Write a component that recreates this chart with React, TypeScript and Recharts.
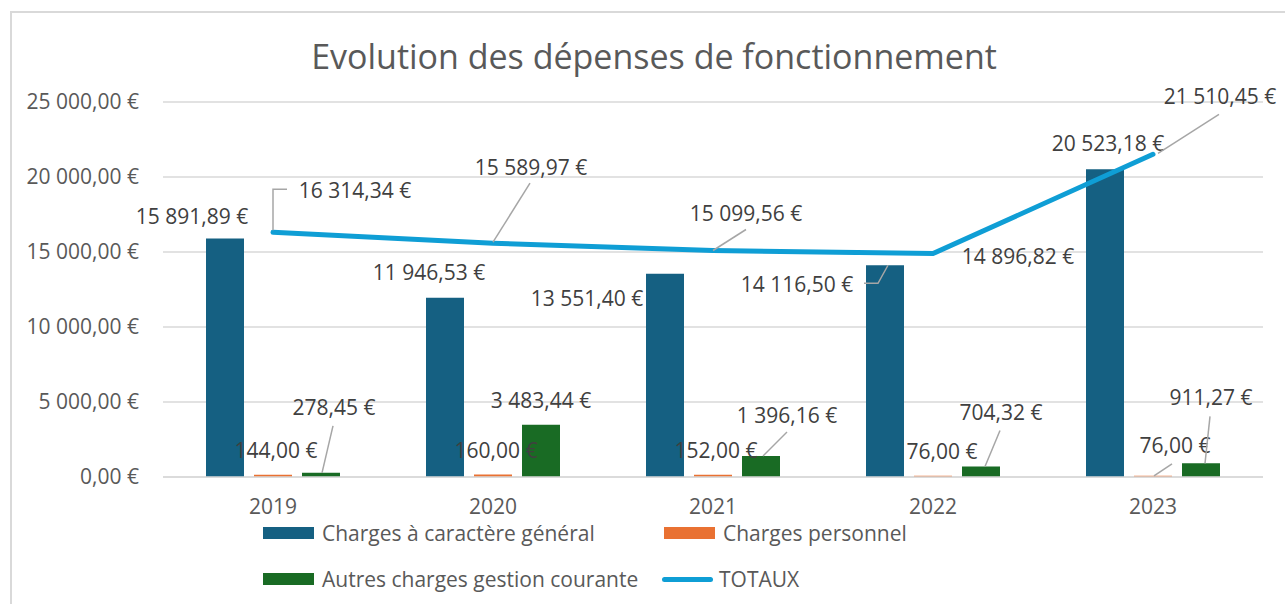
import React from "react";
import { Bar, ComposedChart, Line, XAxis, YAxis, CartesianGrid, LabelList } from "recharts";

// values
const years = ["2019", "2020", "2021", "2022", "2023"];
const chargesGenerales = [15891.89, 11946.53, 13551.4, 14116.5, 20523.18];
const chargesPersonnel = [144, 160, 152, 76, 76];
const autresCharges = [278.45, 3483.44, 1396.16, 704.32, 911.27];
const totaux = [16314.34, 15589.97, 15099.56, 14896.82, 21510.45];
const yTicks = [0, 5000, 10000, 15000, 20000, 25000];

const data = years.map((year, i) => ({
  year,
  general: chargesGenerales[i],
  personnel: chargesPersonnel[i],
  autres: autresCharges[i],
  totaux: totaux[i],
}));

const FONT = "'Open Sans', sans-serif";
const BLUE = "#156082";
const ORANGE = "#e97132";
const GREEN = "#196b24";
const LINE = "#0f9ed5";

const fmt = (v: number) => {
  const [i, d] = v.toFixed(2).split(".");
  return i.replace(/\B(?=(\d{3})+(?!\d))/g, " ") + "," + d + " €";
};

type Place = { dx: number; dy: number; leader?: number[][] };

// label placement relative to the mark (bar top centre / line point)
const generalPlaces: Place[] = [
  { dx: -33, dy: -23 },
  { dx: -16, dy: -26 },
  { dx: -78, dy: 24 },
  { dx: -88, dy: 19, leader: [[3, 0], [-7, 18], [-21, 18]] },
  { dx: 3, dy: -26 },
];
const personnelPlaces: Place[] = [
  { dx: 3, dy: -25 },
  { dx: 3, dy: -25 },
  { dx: 3, dy: -25 },
  { dx: 9, dy: -25 },
  { dx: 22, dy: -31, leader: [[1, 0], [19, -12]] },
];
const autresPlaces: Place[] = [
  { dx: 13, dy: -66, leader: [[1, 0], [12, -47]] },
  { dx: 0, dy: -25 },
  { dx: 26, dy: -41, leader: [[2, 0], [26, -24]] },
  { dx: 20, dy: -54, leader: [[4, 0], [19, -36]] },
  { dx: 10, dy: -66, leader: [[4, 0], [9, -47]] },
];
const totauxPlaces: Place[] = [
  { dx: 82, dy: -42, leader: [[0, -2], [0, -43], [14, -43]] },
  { dx: 38, dy: -76, leader: [[0, -1], [37, -60]] },
  { dx: 33, dy: -38, leader: [[0, 0], [33, -21]] },
  { dx: 85, dy: 2 },
  { dx: 67, dy: -58, leader: [[5, -1], [66, -40]] },
];

const makeLabel = (places: Place[], isBar: boolean) => (props: any) => {
  const vb = props.viewBox || {};
  const x = props.x ?? vb.x;
  const y = props.y ?? vb.y;
  const w = props.width ?? vb.width ?? 0;
  const p = places[props.index];
  if (!p || x == null || y == null) return null;
  const ax = isBar ? x + w / 2 : x;
  const ay = y;
  return (
    <g>
      {p.leader && (
        <polyline
          points={p.leader.map(([lx, ly]) => `${ax + lx},${ay + ly}`).join(" ")}
          fill="none"
          stroke="#a6a6a6"
          strokeWidth={1.5}
        />
      )}
      <text
        x={ax + p.dx}
        y={ay + p.dy}
        textAnchor="middle"
        dominantBaseline="central"
        fill="#404040"
        fontSize={21}
        fontFamily={FONT}
      >
        {fmt(Number(props.value))}
      </text>
    </g>
  );
};

const legendItems = [
  { name: "Charges à caractère général", color: BLUE, left: 263, top: 533, line: false },
  { name: "Charges personnel", color: ORANGE, left: 664, top: 533, line: false },
  { name: "Autres charges gestion courante", color: GREEN, left: 263, top: 579, line: false },
  { name: "TOTAUX", color: LINE, left: 662, top: 579, line: true },
];

const App = () => {
  return (
    <div
      style={{
        position: "absolute",
        left: 0,
        top: 0,
        width: 1285,
        height: 604,
        overflow: "hidden",
        background: "#fff",
        fontFamily: FONT,
      }}
    >
      <div
        style={{
          position: "absolute",
          left: 10,
          top: 11,
          width: 1300,
          height: 620,
          borderLeft: "2px solid #d9d9d9",
          borderTop: "2px solid #d9d9d9",
        }}
      />
      <div
        style={{
          position: "absolute",
          left: 0,
          top: 39,
          width: 1308,
          textAlign: "center",
          fontSize: 34,
          lineHeight: "34px",
          color: "#595959",
        }}
      >
        Evolution des dépenses de fonctionnement
      </div>
      <div style={{ position: "absolute", left: 0, top: 0 }}>
        <ComposedChart
          width={1285}
          height={604}
          data={data}
          margin={{ top: 102, right: 22, left: 13, bottom: 97 }}
          barGap={10}
        >
          <CartesianGrid vertical={false} stroke="#d9d9d9" strokeWidth={1.5} />
          <XAxis
            dataKey="year"
            axisLine={{ stroke: "#d9d9d9", strokeWidth: 1.5 }}
            tickLine={false}
            tickMargin={16}
            tick={{ fill: "#595959", fontSize: 21, fontFamily: FONT }}
          />
          <YAxis
            width={150}
            domain={[0, 25000]}
            ticks={yTicks}
            axisLine={false}
            tickLine={false}
            tickMargin={18}
            tickFormatter={fmt}
            tick={{ fill: "#595959", fontSize: 21, fontFamily: FONT }}
          />
          <Bar dataKey="general" fill={BLUE} barSize={38} isAnimationActive={false}>
            <LabelList dataKey="general" content={makeLabel(generalPlaces, true)} />
          </Bar>
          <Bar dataKey="personnel" fill={ORANGE} barSize={38} isAnimationActive={false}>
            <LabelList dataKey="personnel" content={makeLabel(personnelPlaces, true)} />
          </Bar>
          <Bar dataKey="autres" fill={GREEN} barSize={38} isAnimationActive={false}>
            <LabelList dataKey="autres" content={makeLabel(autresPlaces, true)} />
          </Bar>
          <Line
            dataKey="totaux"
            stroke={LINE}
            strokeWidth={5}
            dot={false}
            activeDot={false}
            strokeLinecap="round"
            isAnimationActive={false}
          >
            <LabelList dataKey="totaux" content={makeLabel(totauxPlaces, false)} />
          </Line>
        </ComposedChart>
      </div>
      {legendItems.map((it) => (
        <div
          key={it.name}
          style={{
            position: "absolute",
            left: it.left,
            top: it.top - 11,
            height: 22,
            lineHeight: "22px",
            display: "flex",
            alignItems: "center",
            fontSize: 21,
            color: "#595959",
            whiteSpace: "nowrap",
          }}
        >
          {it.line ? (
            <span style={{ width: 51, height: 5, borderRadius: 3, background: it.color, marginRight: 6 }} />
          ) : (
            <span style={{ width: 51, height: 12, background: it.color, marginRight: 8 }} />
          )}
          {it.name}
        </div>
      ))}
    </div>
  );
};

export default App;
